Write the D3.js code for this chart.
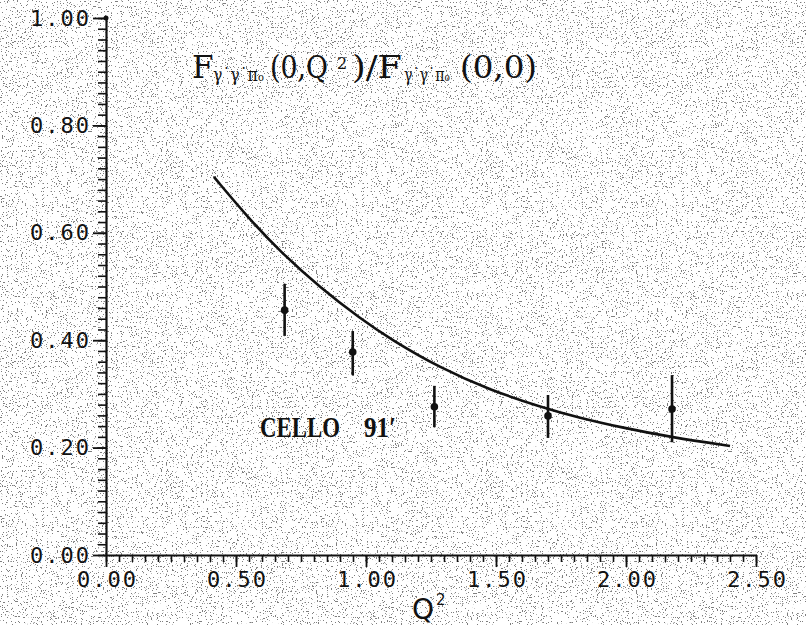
<!DOCTYPE html>
<html>
<head>
<meta charset="utf-8">
<script src="https://cdn.jsdelivr.net/npm/d3@7"></script>
<style>
  html, body { margin: 0; padding: 0; background: #fff; }
  svg { display: block; }
  .tick-label { font-family: "DejaVu Sans Mono", monospace; font-size: 22px; letter-spacing: 2px; fill: #111; }
</style>
</head>
<body>
<div id="chart"></div>
<script>
// Data
const xTickLabels = ['0.00', '0.50', '1.00', '1.50', '2.00', '2.50'];
const yTickLabels = ['0.00', '0.20', '0.40', '0.60', '0.80', '1.00'];

// CELLO 91' measurements: Q^2, value, error bar low / high
const pointQ2 = [0.687, 0.949, 1.263, 1.700, 2.177];
const pointVal = [0.456, 0.378, 0.276, 0.259, 0.272];
const pointLow = [0.408, 0.335, 0.238, 0.218, 0.210];
const pointHigh = [0.505, 0.417, 0.315, 0.298, 0.335];

// theory curve
const curveQ2 = [0.415, 0.545, 0.672, 0.826, 0.979, 1.094, 1.286, 1.478, 1.670, 1.824, 1.978, 2.177, 2.400];
const curveVal = [0.704, 0.629, 0.564, 0.497, 0.440, 0.402, 0.348, 0.307, 0.276, 0.255, 0.238, 0.219, 0.203];

const width = 806, height = 625;

const svg = d3.select('#chart')
    .append('svg')
    .attr('width', width)
    .attr('height', height);

// scanned paper speckle
const defs = svg.append('defs');
const speckle = defs.append('filter')
    .attr('id', 'speckle')
    .attr('x', 0).attr('y', 0).attr('width', '100%').attr('height', '100%');
speckle.append('feTurbulence')
    .attr('type', 'fractalNoise')
    .attr('baseFrequency', 0.8)
    .attr('numOctaves', 2)
    .attr('seed', 3)
    .attr('result', 'noise');
speckle.append('feColorMatrix')
    .attr('in', 'noise')
    .attr('type', 'matrix')
    .attr('values', '0 0 0 0 0  0 0 0 0 0  0 0 0 0 0  0 0 0 30 -19.5');

svg.append('rect').attr('width', width).attr('height', height).attr('fill', '#fff');
svg.append('rect').attr('width', width).attr('height', height)
    .attr('filter', 'url(#speckle)').attr('opacity', 0.5);

const x = d3.scaleLinear().domain([0, 2.5]).range([106, 756]);
const y = d3.scaleLinear().domain([0, 1]).range([555, 18]);

// x axis: minor ticks every 0.05, major every 0.5
svg.append('g')
    .attr('transform', `translate(0,${y(0)})`)
    .call(d3.axisBottom(x).tickValues(d3.range(0, 51).map(i => i * 0.05)).tickSize(7).tickFormat('').tickSizeOuter(0))
    .call(g => g.selectAll('line').attr('stroke', '#111').attr('stroke-width', 1.6))
    .call(g => g.select('.domain').attr('stroke', '#111').attr('stroke-width', 2.2));

svg.append('g')
    .attr('transform', `translate(0,${y(0)})`)
    .call(d3.axisBottom(x).tickValues(xTickLabels.map(Number)).tickSize(12)
        .tickFormat((d, i) => xTickLabels[i]).tickSizeOuter(0))
    .call(g => g.select('.domain').remove())
    .call(g => g.selectAll('line').attr('stroke', '#111').attr('stroke-width', 1.8))
    .call(g => g.selectAll('text').attr('class', 'tick-label').attr('y', 32).attr('dy', 0).attr('dx', 1));

// y axis: minor ticks every 0.02, major every 0.2
svg.append('g')
    .attr('transform', `translate(${x(0)},0)`)
    .call(d3.axisLeft(y).tickValues(d3.range(0, 51).map(i => i * 0.02)).tickSize(8).tickFormat('').tickSizeOuter(0))
    .call(g => g.selectAll('line').attr('stroke', '#111').attr('stroke-width', 1.6))
    .call(g => g.select('.domain').attr('stroke', '#111').attr('stroke-width', 2.2));

svg.append('g')
    .attr('transform', `translate(${x(0)},0)`)
    .call(d3.axisLeft(y).tickValues(yTickLabels.map(Number)).tickSize(13).tickPadding(2)
        .tickFormat((d, i) => yTickLabels[i]).tickSizeOuter(0))
    .call(g => g.select('.domain').remove())
    .call(g => g.selectAll('line').attr('stroke', '#111').attr('stroke-width', 1.8))
    .call(g => g.selectAll('text').attr('class', 'tick-label'));

svg.append('circle')
    .attr('cx', x(0)).attr('cy', y(1)).attr('r', 2.5).attr('fill', '#111');

// axis title Q^2
const qLabel = svg.append('text')
    .attr('x', 412).attr('y', 619)
    .attr('font-family', '"DejaVu Sans", sans-serif')
    .attr('font-size', 28)
    .attr('fill', '#111');
qLabel.append('tspan').text('Q');
qLabel.append('tspan').attr('x', 436).attr('y', 605).attr('font-size', 15).text('2');

// theory curve
const line = d3.line()
    .x((d, i) => x(curveQ2[i]))
    .y(d => y(d))
    .curve(d3.curveBasis);

svg.append('path')
    .datum(curveVal)
    .attr('d', line)
    .attr('fill', 'none')
    .attr('stroke', '#111')
    .attr('stroke-width', 2.6);

// data points with error bars
const pts = svg.append('g')
    .selectAll('g')
    .data(pointQ2)
    .join('g');

pts.append('line')
    .attr('x1', d => x(d)).attr('x2', d => x(d))
    .attr('y1', (d, i) => y(pointLow[i]))
    .attr('y2', (d, i) => y(pointHigh[i]))
    .attr('stroke', '#111')
    .attr('stroke-width', 2.6);

pts.append('circle')
    .attr('cx', d => x(d))
    .attr('cy', (d, i) => y(pointVal[i]))
    .attr('r', 3.8)
    .attr('fill', '#111');

// title formula, pieces placed where they sit in the scan
const title = svg.append('text')
    .attr('font-family', '"DejaVu Serif", serif')
    .attr('font-size', 31)
    .attr('fill', '#111');

function addPiece(str, px, py, size, len) {
    const t = title.append('tspan')
        .attr('x', px).attr('y', py)
        .attr('font-size', size)
        .text(str);
    if (len) t.attr('textLength', len).attr('lengthAdjust', 'spacingAndGlyphs');
}

addPiece('F', 192, 78, 31);
addPiece('γ˙γ˙πₒ', 213, 81, 19, 51);
addPiece('(0,Q', 270, 78, 31, 58);
addPiece('2', 337, 69, 16);
addPiece(')/F', 352, 78, 31, 50);
addPiece('γ˙γ˙πₒ', 404, 81, 19, 46);
addPiece('(0,0)', 460, 78, 31, 77);

// experiment label
const cello = svg.append('text')
    .attr('y', 437)
    .attr('font-family', '"Liberation Serif", serif')
    .attr('font-size', 29)
    .attr('font-weight', 'bold')
    .attr('fill', '#111');
cello.append('tspan').attr('x', 260).attr('textLength', 80).attr('lengthAdjust', 'spacingAndGlyphs').text('CELLO');
cello.append('tspan').attr('x', 364).attr('textLength', 32).attr('lengthAdjust', 'spacingAndGlyphs').text('91′');
</script>
</body>
</html>
